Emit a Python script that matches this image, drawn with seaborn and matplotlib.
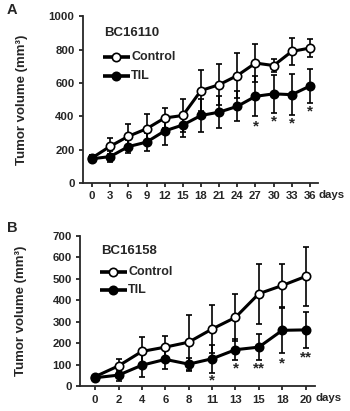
import numpy as np
import pandas as pd
import matplotlib
matplotlib.use("Agg")
import matplotlib.pyplot as plt
import seaborn as sns

# panel A - BC16110
days_a = ["0", "3", "6", "9", "12", "15", "18", "21", "24", "27", "30", "33", "36"]
ctrl_a = [150, 220, 280, 325, 390, 405, 555, 590, 645, 720, 705, 790, 810]
ctrl_a_err = [15, 47, 72, 90, 60, 100, 125, 125, 135, 115, 40, 80, 55]
til_a = [145, 158, 218, 245, 312, 348, 405, 425, 460, 520, 535, 530, 582]
til_a_err = [20, 35, 38, 55, 85, 70, 100, 95, 90, 120, 115, 125, 100]
stars_a = {9: ("*", 340), 10: ("*", 368), 11: ("*", 358), 12: ("*", 428)}

# panel B - BC16158
days_b = ["0", "2", "4", "6", "8", "11", "13", "15", "18", "20"]
ctrl_b = [45, 95, 162, 182, 205, 266, 320, 430, 468, 510]
ctrl_b_err = [8, 30, 65, 50, 128, 110, 110, 140, 98, 135]
til_b = [40, 52, 98, 125, 103, 128, 170, 182, 260, 262]
til_b_err = [8, 25, 55, 45, 30, 65, 48, 60, 105, 83]
stars_b = {5: ("*", 25), 6: ("*", 85), 7: ("**", 85), 8: ("*", 108), 9: ("**", 135)}

sns.set_style("ticks")
plt.rcParams["font.family"] = ["Liberation Sans", "DejaVu Sans"]
plt.rcParams["font.weight"] = "bold"

fig = plt.figure(figsize=(3.5, 4.11), dpi=100)
axA = fig.add_axes([0.237, 0.555, 0.672, 0.405])
axB = fig.add_axes([0.229, 0.06, 0.671, 0.367])


def panel(ax, days, ctrl, ctrl_err, til, til_err, stars, name, ymax, ystep, xlim):
    x = np.arange(len(days))
    df = pd.DataFrame({"x": np.concatenate([x, x]),
                       "v": ctrl + til,
                       "g": ["Control"] * len(x) + ["TIL"] * len(x)})
    ax.errorbar(x, til, yerr=til_err, fmt="none", ecolor="black",
                elinewidth=1.2, capsize=2.5, capthick=1.2, zorder=2)
    ax.errorbar(x, ctrl, yerr=ctrl_err, fmt="none", ecolor="black",
                elinewidth=1.2, capsize=2.5, capthick=1.2, zorder=2)
    sns.lineplot(data=df, x="x", y="v", hue="g", style="g",
                 palette={"Control": "black", "TIL": "black"},
                 markers={"Control": "o", "TIL": "o"},
                 dashes=False, linewidth=2.2, markersize=6,
                 markeredgecolor="black", markeredgewidth=1.2,
                 ax=ax, legend=False, zorder=3)
    # open circles for control
    for ln in ax.lines:
        if len(ln.get_ydata()) == len(x) and list(ln.get_ydata()) == list(ctrl):
            ln.set_markerfacecolor("white")
    for i, (s, yv) in stars.items():
        ax.text(i, yv, s, ha="center", va="center", fontsize=11, fontweight="bold")
    ax.set_xlim(*xlim)
    ax.set_ylim(0, ymax)
    ax.set_yticks(np.arange(0, ymax + 1, ystep))
    ax.set_xticks(x)
    ax.set_xticklabels(days)
    ax.set_xlabel("")
    ax.set_ylabel("Tumor volume (mm³)", fontsize=9.5, fontweight="bold")
    ax.tick_params(labelsize=8.2, width=1.3, length=3, pad=3)
    for lab in ax.get_xticklabels() + ax.get_yticklabels():
        lab.set_fontweight("bold")
    for sp in ["left", "bottom"]:
        ax.spines[sp].set_linewidth(1.3)
    sns.despine(ax=ax)
    ax.text(1.0, -0.045, "days", transform=ax.transAxes, fontsize=8.2,
            fontweight="bold", ha="left", va="top")
    ax.text(0.09, 0.9, name, transform=ax.transAxes, fontsize=9.5,
            fontweight="bold", ha="left", va="center")
    # legend drawn as small lines
    for k, (lab, fc) in enumerate([("Control", "white"), ("TIL", "black")]):
        yy = 0.755 - k * 0.115
        ax.plot([0.085, 0.2], [yy, yy], transform=ax.transAxes, color="black",
                lw=2.6, solid_capstyle="butt")
        ax.plot([0.142], [yy], transform=ax.transAxes, marker="o", ms=6,
                mfc=fc, mec="black", mew=1.2, color="black")
        ax.text(0.205, yy, lab, transform=ax.transAxes, fontsize=9,
                fontweight="bold", ha="left", va="center")


panel(axA, days_a, ctrl_a, ctrl_a_err, til_a, til_a_err, stars_a,
      "BC16110", 1000, 200, (-0.5, 12.45))
panel(axB, days_b, ctrl_b, ctrl_b_err, til_b, til_b_err, stars_b,
      "BC16158", 700, 100, (-0.64, 9.4))
axA.yaxis.set_label_coords(-0.235, 0.5)
axB.yaxis.set_label_coords(-0.225, 0.5)

fig.text(0.02, 0.975, "A", fontsize=10.5, fontweight="bold", va="center")
fig.text(0.02, 0.445, "B", fontsize=10.5, fontweight="bold", va="center")

fig.savefig("out.png", dpi=100)
